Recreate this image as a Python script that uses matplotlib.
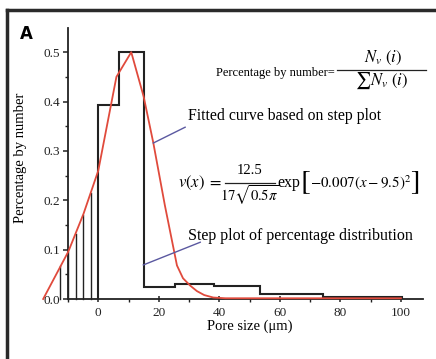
import matplotlib
matplotlib.use("Agg")
import matplotlib.pyplot as plt
import numpy as np
from matplotlib.ticker import MultipleLocator, FormatStrFormatter

# ---- data ----
step_edges = [0, 6.7, 15, 25.3, 38.3, 53.5, 74.2, 100.2]
step_values = [0.393, 0.5, 0.024, 0.030, 0.027, 0.010, 0.0035]

fit_x = [-18.2, -9.9, -4.85, 0.0, 6.0, 10.9, 15.0, 18.2, 22.0, 26.0, 28.0, 30.4, 32.6, 35.0, 38.0, 42.0, 100.0]
fit_y = [0.0, 0.096, 0.173, 0.26, 0.45, 0.5, 0.41, 0.316, 0.19, 0.068, 0.042, 0.027, 0.016, 0.008, 0.003, 0.0015, 0.0015]

hatch_x = [-12.5, -10.0, -7.5, -5.0, -2.5]

x_ticks = [0, 20, 40, 60, 80, 100]
y_ticks = [0.0, 0.1, 0.2, 0.3, 0.4, 0.5]

plt.rcParams['font.family'] = ['Liberation Serif', 'DejaVu Serif']
plt.rcParams['mathtext.fontset'] = 'stix'

W, H = 436, 359
fig = plt.figure(figsize=(W / 100, H / 100), dpi=100)
fig.patch.set_facecolor('white')
renderer = fig.canvas.get_renderer()

def fx(px):
    return px / W
def fy(py):
    return 1 - py / H

# outer frame (top and left edges only visible)
fig.add_artist(plt.Line2D([fx(7), 1.0], [fy(10), fy(10)], color='#2a2a2a', lw=2.5,
                          transform=fig.transFigure))
fig.add_artist(plt.Line2D([fx(7), fx(7)], [0.0, fy(10)], color='#2a2a2a', lw=2.5,
                          transform=fig.transFigure))
fig.text(fx(20), fy(34), 'A', fontsize=12, fontweight='bold', family='DejaVu Sans',
         va='center', ha='left')

ax = fig.add_axes([fx(68), fy(299), (423 - 68) / W, (299 - 28) / H])
ax.set_facecolor('none')
ax.set_xlim(-10, 107.3)
ax.set_ylim(0, 0.549)

for s in ['top', 'right']:
    ax.spines[s].set_visible(False)
for s in ['left', 'bottom']:
    ax.spines[s].set_linewidth(1.3)
    ax.spines[s].set_color('#222222')

# hatch lines under the fitted curve
for hx in hatch_x:
    hy = np.interp(hx, fit_x, fit_y)
    ax.plot([hx, hx], [0, hy], color='#222222', lw=1.0, clip_on=False, zorder=2)

# step plot
sx = [step_edges[0]]
sy = [0.0]
for i, v in enumerate(step_values):
    sx += [step_edges[i], step_edges[i + 1]]
    sy += [v, v]
sx += [step_edges[-1]]
sy += [0.0]
ax.plot(sx, sy, color='#222222', lw=1.5, zorder=3, solid_joinstyle='miter')

# fitted curve
ax.plot(fit_x, fit_y, color='#e04a3c', lw=1.3, clip_on=False, zorder=4)

# annotation pointers
ax.plot([18.2, 28.7], [0.316, 0.348], color='#5a58a0', lw=1.0, zorder=5)
ax.plot([14.9, 33.7], [0.069, 0.115], color='#5a58a0', lw=1.0, zorder=5)

ax.xaxis.set_major_locator(plt.FixedLocator(x_ticks))
ax.xaxis.set_minor_locator(MultipleLocator(10))
ax.yaxis.set_major_locator(plt.FixedLocator(y_ticks))
ax.yaxis.set_major_formatter(FormatStrFormatter('%.1f'))
ax.yaxis.set_minor_locator(MultipleLocator(0.05))
ax.tick_params(axis='both', which='major', direction='out', length=3.5, width=1.1,
               labelsize=9.5, colors='#222222', pad=2)
ax.tick_params(axis='both', which='minor', direction='out', length=2, width=1.0, colors='#222222')
ax.tick_params(axis='x', which='major', direction='inout', length=5, pad=3)

ax.set_xlabel('Pore size (μm)', fontsize=10.5, labelpad=0)
ax.xaxis.set_label_coords((250 - 68) / 355, -0.075)
ax.set_ylabel('Percentage by number', fontsize=10.5)
ax.yaxis.set_label_coords((27 - 68) / 355, (299 - 158) / 271)

# ---- annotation texts ----
def put(x, y, s, size, ha='left', **kw):
    t = fig.text(fx(x), fy(y), s, fontsize=size, va='center', ha=ha, **kw)
    bb = t.get_window_extent(renderer)
    return bb.x0, bb.x1

def hbar(x0, x1, y, lw=0.9):
    fig.add_artist(plt.Line2D([fx(x0), fx(x1)], [fy(y), fy(y)], color='#222222', lw=lw,
                              transform=fig.transFigure))

# Percentage by number = N_v(i) / sum N_v(i)
_, xe = put(216, 73, 'Percentage by number=', 9)
fl, fr = xe + 2, 426
hbar(fl, fr, 69.5)
put((fl + fr) / 2 + 2, 58, r'$N_v\ (i)$', 12, ha='center')
put((fl + fr) / 2, 81, r'$\sum N_v\ (i)$', 12, ha='center')

put(188, 116, 'Fitted curve based on step plot', 11.3)
put(188, 236, 'Step plot of percentage distribution', 11.5)

# v(x) = 12.5 / (17 sqrt(0.5 pi)) exp[-0.007(x-9.5)^2]
_, xe = put(178, 183, r'$v(x)\;=$', 12)
fl, fr = xe + 3, xe + 53
fc = (fl + fr) / 2
hbar(fl, fr, 182.5)
put(fc, 171, '12.5', 10.5, ha='center')
put(fc, 195, r'$17\sqrt{0.5\pi}$', 10.5, ha='center')
_, xe = put(fr + 2, 183, 'exp', 11.5)
_, xe = put(xe, 183, r'$[$', 21)
_, xe = put(xe - 1, 183, r'$-0.007(x-9.5)^2$', 10.8)
put(xe - 1, 183, r'$]$', 21)

fig.savefig('out.png', dpi=100, facecolor='white')
